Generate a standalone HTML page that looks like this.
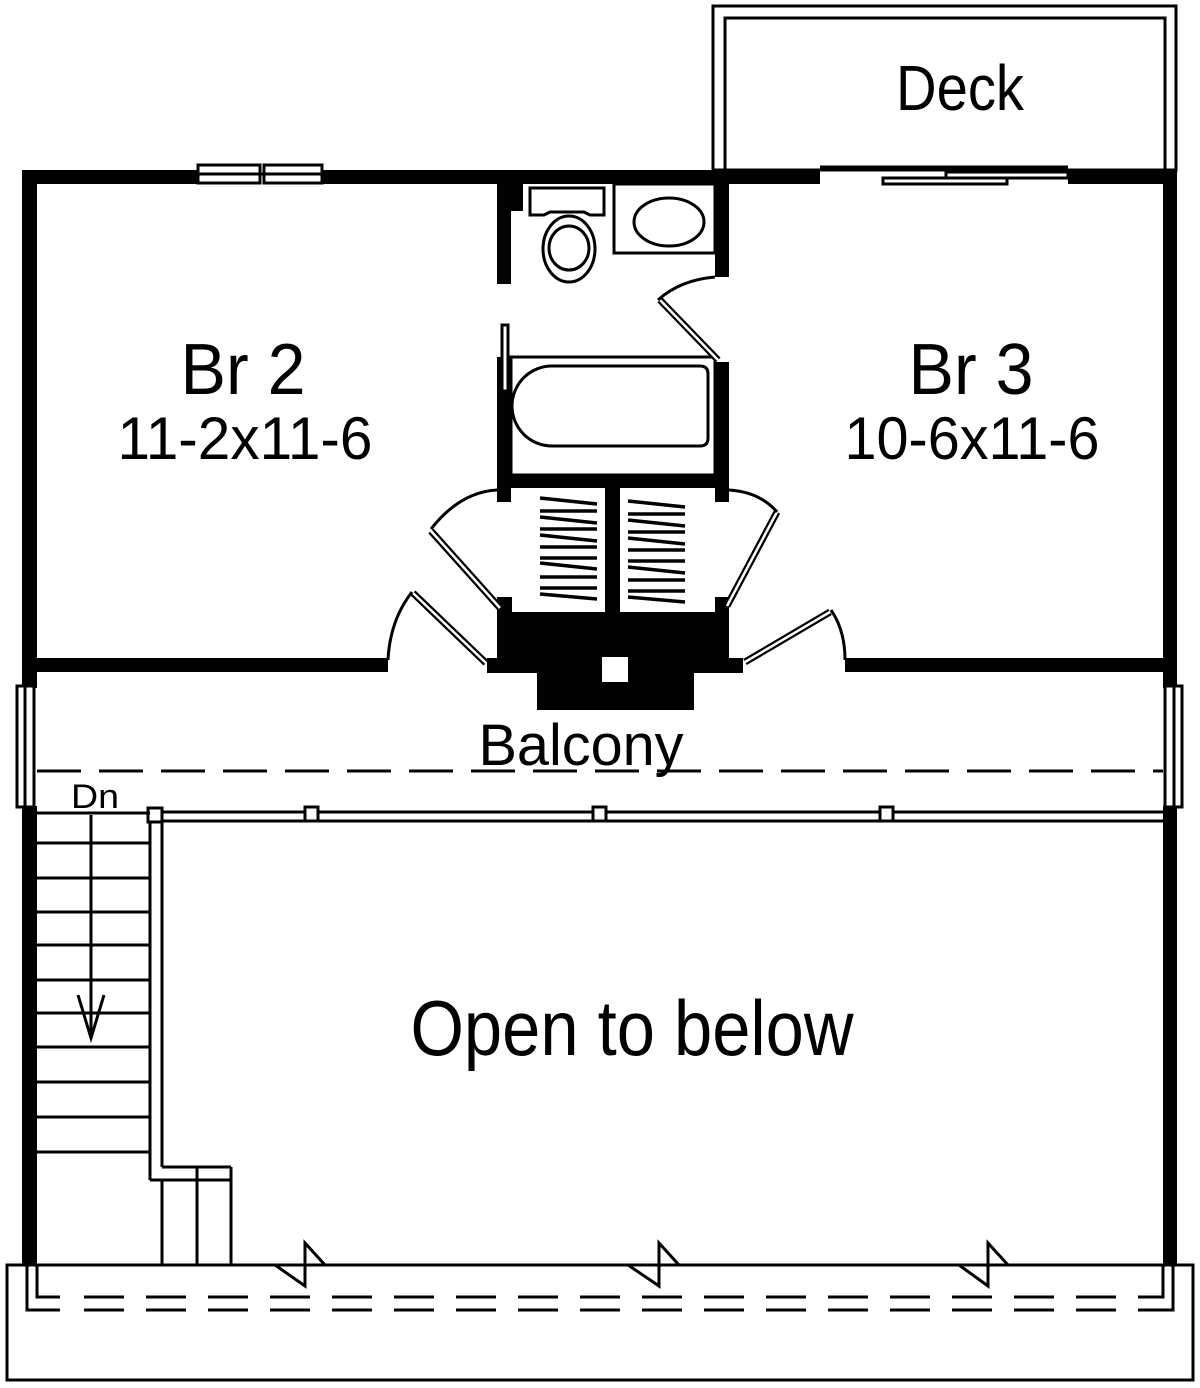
<!DOCTYPE html>
<html><head><meta charset="utf-8"><style>
html,body{margin:0;padding:0;background:#fff;}
svg{display:block;}
text{font-family:"Liberation Sans",sans-serif;fill:#000;}
</style></head><body>
<svg width="1200" height="1388" viewBox="0 0 1200 1388" xmlns="http://www.w3.org/2000/svg">
<rect width="1200" height="1388" fill="#fff"/>
<g fill="none" stroke="#000" stroke-width="3">
<!-- Deck -->
<rect x="713" y="6" width="463" height="164"/>
<rect x="725" y="18" width="440" height="152"/>
</g>
<g fill="#000">
<!-- outer walls -->
<rect x="22" y="170" width="176" height="14"/>
<rect x="322" y="170" width="498" height="14"/>
<rect x="1068" y="170" width="108" height="14"/>
<rect x="22" y="170" width="15" height="518"/>
<rect x="22" y="806" width="15" height="460"/>
<rect x="1163" y="170" width="14" height="518"/>
<rect x="1163" y="806" width="14" height="460"/>
<!-- bedroom bottom walls -->
<rect x="22" y="658" width="366" height="14"/>
<rect x="845" y="658" width="332" height="14"/>
<!-- bath walls -->
<rect x="497" y="184" width="14" height="100"/>
<rect x="511" y="184" width="12" height="27"/>
<rect x="715" y="184" width="14" height="93"/>
<rect x="497" y="357" width="14" height="145"/>
<rect x="715" y="362" width="14" height="140"/>
<rect x="497" y="474" width="232" height="14"/>
<rect x="605" y="488" width="15" height="124"/>
<rect x="497" y="597" width="15" height="16"/>
<rect x="715" y="597" width="14" height="16"/>
<!-- bottom block -->
<rect x="497" y="612" width="232" height="48"/>
<rect x="487" y="658" width="256" height="15"/>
<rect x="537" y="672" width="157" height="38"/>
</g>
<rect x="602" y="657" width="26" height="25" fill="#fff"/>
<g fill="#fff" stroke="#000" stroke-width="3">
<!-- windows top -->
<rect x="198" y="165" width="62" height="18"/>
<rect x="264" y="165" width="58" height="18"/>
<line x1="198" y1="174" x2="322" y2="174"/>
<!-- side windows -->
<rect x="17" y="686" width="17" height="121"/>
<line x1="25" y1="686" x2="25" y2="807"/>
<rect x="1165" y="686" width="17" height="121"/>
<line x1="1174" y1="686" x2="1174" y2="807"/>
<!-- deck slider -->
<line x1="820" y1="167" x2="1068" y2="167" />
<rect x="946" y="172" width="122" height="6"/>
<rect x="883" y="178" width="124" height="6"/>
<!-- toilet / sink -->
<path d="M530 188 h74 v27 h-14 l-6 -3 h-34 l-6 3 h-14 z"/>
<ellipse cx="569" cy="249" rx="26" ry="33"/>
<ellipse cx="569" cy="248" rx="20" ry="22"/>
<rect x="614" y="184" width="101" height="69"/>
<ellipse cx="669" cy="222" rx="35" ry="24"/>
<!-- tub -->
<rect x="511" y="357" width="204" height="118"/>
<path d="M552 366 H700 q8 0 8 8 V438 q0 8 -8 8 H552 a40 40 0 0 1 0 -80 z"/>
<!-- shower rod -->
<rect x="502" y="325" width="6" height="66"/>
</g>
<!-- door leafs (double lines) -->
<g stroke="#000" stroke-width="7" stroke-linecap="butt">
<line x1="660" y1="300" x2="718" y2="360"/>
<line x1="431" y1="531" x2="500" y2="608"/>
<line x1="777" y1="512" x2="727" y2="606"/>
<line x1="413" y1="593" x2="486" y2="663"/>
<line x1="830" y1="612" x2="745" y2="662"/>
</g>
<g stroke="#fff" stroke-width="2.5">
<line x1="660" y1="300" x2="718" y2="360"/>
<line x1="431" y1="531" x2="500" y2="608"/>
<line x1="777" y1="512" x2="727" y2="606"/>
<line x1="413" y1="593" x2="486" y2="663"/>
<line x1="830" y1="612" x2="745" y2="662"/>
</g>
<g fill="none" stroke="#000" stroke-width="3">
<!-- door arcs -->
<path d="M715 277 Q680 280 658 300"/>
<path d="M497 490 Q460 492 431 529"/>
<path d="M729 490 Q760 492 777 512"/>
<path d="M388 660 Q390 620 412 592"/>
<path d="M845 660 Q845 630 831 610"/>
</g>
<!-- hangers -->
<g stroke="#000" stroke-width="3.5">
<line x1="540" y1="498" x2="597" y2="504"/><line x1="540" y1="511" x2="597" y2="511"/>
<line x1="540" y1="517" x2="597" y2="523"/><line x1="540" y1="529" x2="597" y2="529"/>
<line x1="540" y1="535" x2="597" y2="541"/><line x1="540" y1="547" x2="597" y2="547"/>
<line x1="540" y1="558" x2="597" y2="558"/><line x1="540" y1="563" x2="597" y2="569"/>
<line x1="540" y1="577" x2="597" y2="577"/><line x1="540" y1="588" x2="597" y2="588"/>
<line x1="540" y1="594" x2="597" y2="599"/>
<line x1="628" y1="501" x2="685" y2="507"/><line x1="628" y1="514" x2="685" y2="514"/>
<line x1="628" y1="520" x2="685" y2="526"/><line x1="628" y1="532" x2="685" y2="532"/>
<line x1="628" y1="538" x2="685" y2="544"/><line x1="628" y1="550" x2="685" y2="550"/>
<line x1="628" y1="561" x2="685" y2="561"/><line x1="628" y1="567" x2="685" y2="573"/>
<line x1="628" y1="580" x2="685" y2="580"/><line x1="628" y1="591" x2="685" y2="591"/>
<line x1="628" y1="597" x2="685" y2="602"/>
</g>
<g fill="none" stroke="#000" stroke-width="3">
<!-- balcony dashed -->
<line x1="37" y1="771" x2="1163" y2="771" stroke-dasharray="44 18"/>
<!-- railing -->
<line x1="162" y1="812" x2="1163" y2="812"/>
<line x1="162" y1="821" x2="1163" y2="821"/>
<line x1="150" y1="809" x2="150" y2="1180"/>
<line x1="162" y1="821" x2="162" y2="1167"/>
<line x1="150" y1="1180" x2="231" y2="1180"/>
<line x1="162" y1="1167" x2="231" y2="1167"/>
<line x1="231" y1="1167" x2="231" y2="1265"/>
<line x1="197" y1="1167" x2="197" y2="1265"/>
<line x1="162" y1="1180" x2="162" y2="1265"/>
</g>
<g fill="#fff" stroke="#000" stroke-width="3">
<rect x="148" y="808" width="14" height="14"/>
<rect x="305" y="807" width="13" height="14"/>
<rect x="593" y="807" width="13" height="14"/>
<rect x="880" y="807" width="13" height="14"/>
</g>
<!-- stairs -->
<g stroke="#000" stroke-width="3">
<line x1="37" y1="813" x2="150" y2="813"/>
<line x1="37" y1="843" x2="150" y2="843"/>
<line x1="37" y1="878" x2="150" y2="878"/>
<line x1="37" y1="912" x2="150" y2="912"/>
<line x1="37" y1="945" x2="150" y2="945"/>
<line x1="37" y1="980" x2="150" y2="980"/>
<line x1="37" y1="1013" x2="150" y2="1013"/>
<line x1="37" y1="1047" x2="150" y2="1047"/>
<line x1="37" y1="1082" x2="150" y2="1082"/>
<line x1="37" y1="1117" x2="150" y2="1117"/>
<line x1="37" y1="1152" x2="150" y2="1152"/>
<line x1="91" y1="815" x2="91" y2="1036"/>
<polyline points="78,995 91,1038 104,995" fill="none"/>
</g>
<!-- bottom -->
<g fill="none" stroke="#000" stroke-width="3">
<rect x="7" y="1265" width="1186" height="115"/>
<polyline points="7,1265 275,1265 305,1286 305,1243 325,1265 628,1265 659,1286 659,1243 679,1265 959,1265 988,1286 988,1243 1008,1265 1193,1265"/>
<polyline points="37,1265 37,1297 60,1297"/>
<polyline points="27,1265 27,1310 60,1310"/>
<polyline points="1163,1265 1163,1297 1140,1297"/>
<polyline points="1173,1265 1173,1310 1140,1310"/>
<line x1="84" y1="1297" x2="1140" y2="1297" stroke-dasharray="40 22"/>
<line x1="84" y1="1310" x2="1140" y2="1310" stroke-dasharray="40 22"/>
</g>
<!-- labels -->
<text x="960" y="110" font-size="64" text-anchor="middle" textLength="128" lengthAdjust="spacingAndGlyphs">Deck</text>
<text x="243" y="394" font-size="72" text-anchor="middle" textLength="125" lengthAdjust="spacingAndGlyphs">Br 2</text>
<text x="245" y="459" font-size="60" text-anchor="middle" textLength="255" lengthAdjust="spacingAndGlyphs">11-2x11-6</text>
<text x="971" y="394" font-size="72" text-anchor="middle" textLength="125" lengthAdjust="spacingAndGlyphs">Br 3</text>
<text x="972" y="459" font-size="60" text-anchor="middle" textLength="255" lengthAdjust="spacingAndGlyphs">10-6x11-6</text>
<text x="581" y="765" font-size="58" text-anchor="middle" textLength="205" lengthAdjust="spacingAndGlyphs">Balcony</text>
<text x="95" y="808" font-size="34" text-anchor="middle" textLength="48" lengthAdjust="spacingAndGlyphs">Dn</text>
<text x="632" y="1055" font-size="78" text-anchor="middle" textLength="443" lengthAdjust="spacingAndGlyphs">Open to below</text>
</svg>
</body></html>
